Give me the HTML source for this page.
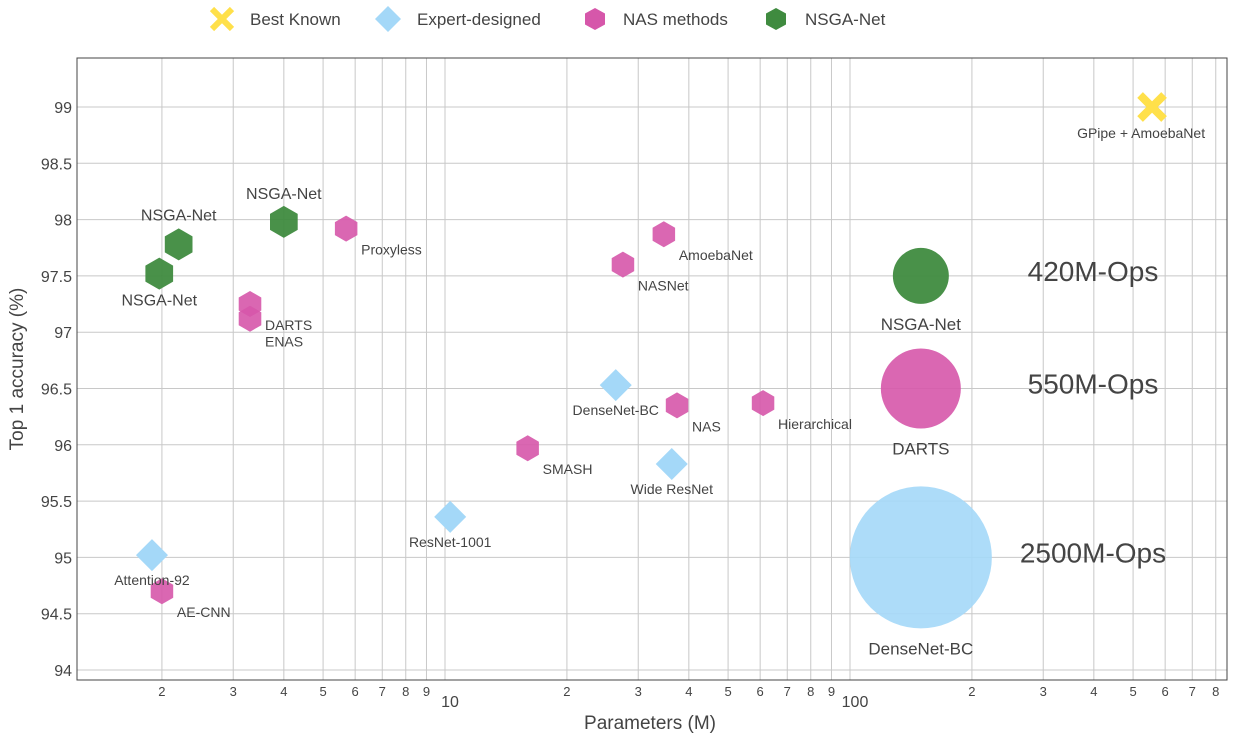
<!DOCTYPE html>
<html><head><meta charset="utf-8"><style>
body{margin:0;background:#fff;font-family:"Liberation Sans","DejaVu Sans",sans-serif}
</style></head><body>
<svg id="chart" width="1235" height="736" xmlns="http://www.w3.org/2000/svg" font-family="Liberation Sans, DejaVu Sans, sans-serif">
<g id="grid"></g>
<rect x="77" y="58" width="1150" height="622" fill="none" stroke="#444" stroke-width="1"/>
<g id="ticks"></g>
<g id="marks"></g>
<text x="650" y="729" text-anchor="middle" font-size="19" fill="#444">Parameters (M)</text>
<text transform="translate(23,369) rotate(-90)" text-anchor="middle" font-size="19" fill="#444">Top 1 accuracy (%)</text>
<g font-size="17" fill="#444">
 <g><path d="M212,9 L232,29 M232,9 L212,29" stroke="#ffe04a" stroke-width="6"/><text x="250" y="25">Best Known</text></g>
 <g><path d="M388,6 L401,19 L388,32 L375,19Z" fill="#a4d8f8"/><text x="417" y="25">Expert-designed</text></g>
 <g><path d="M595,8 L605,13.5 L605,24.5 L595,30 L585,24.5 L585,13.5Z" fill="#d657aa"/><text x="623" y="25">NAS methods</text></g>
 <g><path d="M776,8 L786,13.5 L786,24.5 L776,30 L766,24.5 L766,13.5Z" fill="#3f8b3f"/><text x="805" y="25">NSGA-Net</text></g>
</g>
</svg>
<script>
const yTicks=[94,94.5,95,95.5,96,96.5,97,97.5,98,98.5,99];
const xTickVals=[2,3,4,5,6,7,8,9,10,20,30,40,50,60,70,80,90,100,200,300,400,500,600,700,800];
const bestNames=["GPipe + AmoebaNet"];const bestX=[557];const bestY=[99.0];
const expNames=["Attention-92","DenseNet-BC","Wide ResNet","ResNet-1001"];
const expX=[1.89,26.4,36.3,10.3];const expY=[95.02,96.53,95.83,95.36];
const nasNames=["Proxyless","DARTS","ENAS","AE-CNN","SMASH","NASNet","AmoebaNet","NAS","Hierarchical"];
const nasX=[5.7,3.3,3.3,2.0,16.0,27.5,34.7,37.4,61];
const nasY=[97.92,97.25,97.12,94.7,95.97,97.6,97.87,96.35,96.37];
const nsgaNames=["NSGA-Net","NSGA-Net","NSGA-Net"];
const nsgaX=[1.97,2.2,4.0];const nsgaY=[97.52,97.78,97.98];
const bubNames=["NSGA-Net","DARTS","DenseNet-BC"];const bubOps=["420M-Ops","550M-Ops","2500M-Ops"];
const bubX=[149.6,149.6,149.6];const bubY=[97.5,96.5,95.0];const bubR=[28,40,71];
const X=v=>445+405*(Math.log10(v)-1);
const Y=v=>107+(99-v)*112.6;
const NS="http://www.w3.org/2000/svg";
function mk(t,a,p,txt){const e=document.createElementNS(NS,t);for(const k in a)e.setAttribute(k,a[k]);if(txt!==undefined)e.textContent=txt;p.appendChild(e);return e;}
const grid=document.getElementById('grid'),ticks=document.getElementById('ticks'),marks=document.getElementById('marks');
yTicks.forEach(v=>{const l=mk('line',{x1:77,x2:1227,y1:Y(v),y2:Y(v),stroke:'#c8c8c8'},grid);


const t=mk('text',{x:72,y:Y(v)+6,'text-anchor':'end','font-size':16,fill:'#444'},ticks,String(v));

});
xTickVals.forEach(v=>{const l=mk('line',{x1:X(v),x2:X(v),y1:58,y2:680,stroke:'#c8c8c8'},grid);


const major=(v===10||v===100);const lab=String(major?v:(v>=100?v/100:(v>=10?v/10:v)));
const t=mk('text',{x:X(v)+(major?5:0),y:major?707:696,'text-anchor':'middle','font-size':major?16:13,fill:'#444'},ticks,lab);

});
function hex(cx,cy,r){let p=[];for(let i=0;i<6;i++){const a=Math.PI/3*i-Math.PI/2;p.push((cx+r*Math.cos(a)).toFixed(1)+','+(cy+r*Math.sin(a)).toFixed(1));}return p.join(' ');}
function label(txt,x,y,size,anchor){const t=mk('text',{x:x,y:y,'font-size':size,fill:'#444','text-anchor':anchor||'middle'},marks,txt);

}
bubX.forEach((v,i)=>{const c=mk('circle',{cx:X(v),cy:Y(bubY[i]),r:bubR[i],fill:['#3f8b3f','#d657aa','#a4d8f8'][i],'fill-opacity':i==0?0.95:0.9},marks);


label(bubNames[i],X(v),Y(bubY[i])+bubR[i]+26,17);
label(bubOps[i],1093,Y(bubY[i])+5,28);});
nasX.forEach((v,i)=>{const p=mk('polygon',{points:hex(X(v),Y(nasY[i]),13),fill:'#d657aa','fill-opacity':0.9},marks);

});
nasNames.forEach((n,i)=>{let x=X(nasX[i]),y=Y(nasY[i]);label(n,x+15,y+(n==='ENAS'?28:26),14,'start');});
expX.forEach((v,i)=>{const x=X(v),y=Y(expY[i]);const p=mk('polygon',{points:`${x},${y-16} ${x+16},${y} ${x},${y+16} ${x-16},${y}`,fill:'#a4d8f8'},marks);


label(expNames[i],x,y+30,14);});
const nsgaLab=[32,-24,-23];
nsgaX.forEach((v,i)=>{const x=X(v),y=Y(nsgaY[i]);const p=mk('polygon',{points:hex(x,y,16),fill:'#3f8b3f','fill-opacity':0.95},marks);


label(nsgaNames[i],x,y+nsgaLab[i],16);});
bestX.forEach((v,i)=>{const x=X(v),y=Y(bestY[i]);const p=mk('path',{d:`M${x-12},${y-12}L${x+12},${y+12}M${x+12},${y-12}L${x-12},${y+12}`,stroke:'#ffe04a','stroke-width':8},marks);


label(bestNames[i],x-75,y+31,14,'start');});
</script>
</body></html>
